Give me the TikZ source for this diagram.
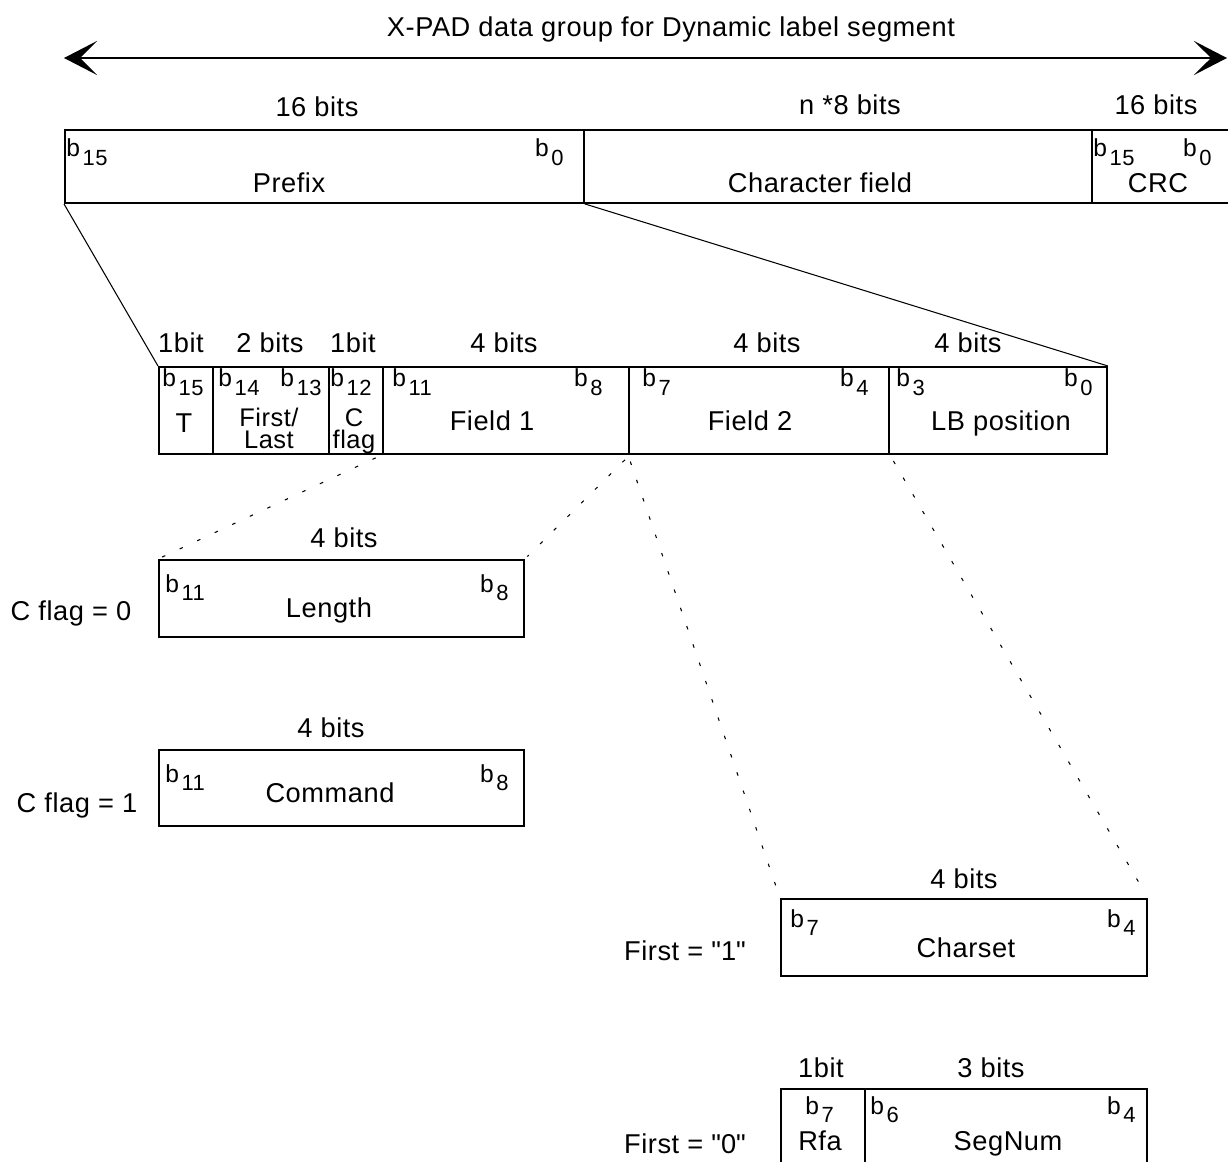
\documentclass[tikz,border=0pt]{standalone}
\usepackage{fontspec}
\setmainfont[LetterSpace=2]{Liberation Sans}
\usetikzlibrary{arrows.meta}
\newcommand{\bitno}[1]{b\hspace{1.5pt}\raisebox{-5pt}{\fontsize{12.5}{13}\selectfont #1}}

\begin{document}
\begin{tikzpicture}[x=0.02cm,y=-0.02cm,
  cell/.style={draw,line width=1.1pt,inner sep=0pt,anchor=north west},
  lbl/.style={inner sep=0pt,anchor=base,font=\fontsize{15.5}{18}\selectfont},
  twoline/.style={inner sep=0pt,anchor=base,align=center,font=\fontsize{14.5}{12}\selectfont},
  bitl/.style={inner sep=0pt,font=\fontsize{14}{15}\selectfont},
  zoomline/.style={line width=0.6pt},
  dotline/.style={line width=0.6pt,dash pattern=on 2pt off 9pt}]
  \useasboundingbox (0,0) rectangle (1228,1162);
  \clip (0,0) rectangle (1228,1162);

  % X-PAD data group
  \node[lbl] (title) at (671,37) {X-PAD data group for Dynamic label segment};
  \coordinate (arrowL) at (64,58);
  \coordinate (arrowR) at (1227,58);
  \draw[line width=1.7pt,{Stealth[length=6.6mm,width=6.8mm,inset=3.4mm]}-{Stealth[length=6.6mm,width=6.8mm,inset=3.4mm]}] (arrowL) -- (arrowR);

  % top row
  \node[cell,minimum width=10.38cm,minimum height=1.46cm] (prefix) at (64,129) {};
  \node[cell,minimum width=10.16cm,minimum height=1.46cm] (charfield) at (583,129) {};
  \node[cell,minimum width=3.6cm,minimum height=1.46cm] (crc) at (1091,129) {};
  \node[lbl] (prefixbits) at (317,117) {16 bits};
  \node[lbl] (charbits) at (850,115) {n *8 bits};
  \node[lbl] (crcbits) at (1156,115) {16 bits};
  \node[bitl,anchor=base west] (prefixhi) at (66,157) {\bitno{15}};
  \node[bitl,anchor=base east] (prefixlo) at (564,157) {\bitno{0}};
  \node[bitl,anchor=base west] (crchi) at (1093,157) {\bitno{15}};
  \node[bitl,anchor=base east] (crclo) at (1212,157) {\bitno{0}};
  \node[lbl] (prefixname) at (289,193) {Prefix};
  \node[lbl] (charname) at (820,193) {Character field};
  \node[lbl] (crcname) at (1158,193) {CRC};

  % prefix fields
  \node[cell,minimum width=1.08cm,minimum height=1.74cm] (tcell) at (158,366) {};
  \node[cell,minimum width=2.32cm,minimum height=1.74cm] (firstlast) at (212,366) {};
  \node[cell,minimum width=1.08cm,minimum height=1.74cm] (cflag) at (328,366) {};
  \node[cell,minimum width=4.92cm,minimum height=1.74cm] (field1) at (382,366) {};
  \node[cell,minimum width=5.2cm,minimum height=1.74cm] (field2) at (628,366) {};
  \node[cell,minimum width=4.36cm,minimum height=1.74cm] (lbpos) at (888,366) {};
  \node[lbl] (tbits) at (181,353) {1bit};
  \node[lbl] (flbits) at (270,353) {2 bits};
  \node[lbl] (cfbits) at (353,353) {1bit};
  \node[lbl] (f1bits) at (504,353) {4 bits};
  \node[lbl] (f2bits) at (767,353) {4 bits};
  \node[lbl] (lbbits) at (968,353) {4 bits};
  \node[bitl,anchor=base west] (b15) at (162,387) {\bitno{15}};
  \node[bitl,anchor=base west] (b14) at (218,387) {\bitno{14}};
  \node[bitl,anchor=base east] (b13) at (322,387) {\bitno{13}};
  \node[bitl,anchor=base west] (b12) at (330,387) {\bitno{12}};
  \node[bitl,anchor=base west] (b11) at (392,387) {\bitno{11}};
  \node[bitl,anchor=base east] (b8) at (603,387) {\bitno{8}};
  \node[bitl,anchor=base west] (b7) at (642,387) {\bitno{7}};
  \node[bitl,anchor=base east] (b4) at (869,387) {\bitno{4}};
  \node[bitl,anchor=base west] (b3) at (896,387) {\bitno{3}};
  \node[bitl,anchor=base east] (b0) at (1093,387) {\bitno{0}};
  \node[lbl] (tname) at (184,432) {T};
  \node[twoline] (flname) at (269,448) {First/\\Last};
  \node[twoline] (cfname) at (354,448) {C\\flag};
  \node[lbl] (f1name) at (492,430) {Field 1};
  \node[lbl] (f2name) at (750,430) {Field 2};
  \node[lbl] (lbname) at (1001,430) {LB position};

  % Field 1
  \node[cell,minimum width=7.3cm,minimum height=1.54cm] (length) at (158,559) {};
  \node[lbl] (lenbits) at (344,547) {4 bits};
  \node[bitl,anchor=base west] (lenhi) at (165,592) {\bitno{11}};
  \node[bitl,anchor=base east] (lenlo) at (509,592) {\bitno{8}};
  \node[lbl] (lenname) at (329,617) {Length};
  \node[lbl] (cflag0) at (71,620) {C flag = 0};

  \node[cell,minimum width=7.3cm,minimum height=1.52cm] (command) at (158,749) {};
  \node[lbl] (cmdbits) at (331,737) {4 bits};
  \node[bitl,anchor=base west] (cmdhi) at (165,782) {\bitno{11}};
  \node[bitl,anchor=base east] (cmdlo) at (509,782) {\bitno{8}};
  \node[lbl] (cmdname) at (330,802) {Command};
  \node[lbl] (cflag1) at (77,812) {C flag = 1};

  % Field 2
  \node[cell,minimum width=7.32cm,minimum height=1.54cm] (charset) at (780,898) {};
  \node[lbl] (csbits) at (964,888) {4 bits};
  \node[bitl,anchor=base west] (cshi) at (790,927) {\bitno{7}};
  \node[bitl,anchor=base east] (cslo) at (1136,927) {\bitno{4}};
  \node[lbl] (csname) at (966,957) {Charset};
  \node[lbl] (first1) at (685,960) {First = \textquotedbl1\textquotedbl};

  \node[cell,minimum width=1.68cm,minimum height=1.54cm] (rfa) at (780,1088) {};
  \node[cell,minimum width=5.64cm,minimum height=1.54cm] (segnum) at (864,1088) {};
  \node[lbl] (rfabits) at (821,1077) {1bit};
  \node[lbl] (segbits) at (991,1077) {3 bits};
  \node[bitl,anchor=base west] (rfahi) at (805,1114) {\bitno{7}};
  \node[bitl,anchor=base west] (seghi) at (870,1114) {\bitno{6}};
  \node[bitl,anchor=base east] (seglo) at (1136,1114) {\bitno{4}};
  \node[lbl] (rfaname) at (820,1150) {Rfa};
  \node[lbl] (segname) at (1008,1150) {SegNum};
  \node[lbl] (first0) at (685,1153) {First = \textquotedbl0\textquotedbl};

  % expansion lines
  \draw[zoomline] (prefix.south west) -- (tcell.north west);
  \draw[zoomline] (prefix.south east) -- (lbpos.north east);
  \draw[dotline,shorten <=4pt,shorten >=2pt] (field1.south west) -- (length.north west);
  \draw[dotline,shorten <=4pt,shorten >=2pt] (field1.south east) -- (length.north east);
  \draw[dotline,shorten <=4pt,shorten >=7pt] (field2.south west) -- (charset.north west);
  \draw[dotline,shorten <=4pt,shorten >=7pt] (field2.south east) -- (charset.north east);
\end{tikzpicture}
\end{document}
